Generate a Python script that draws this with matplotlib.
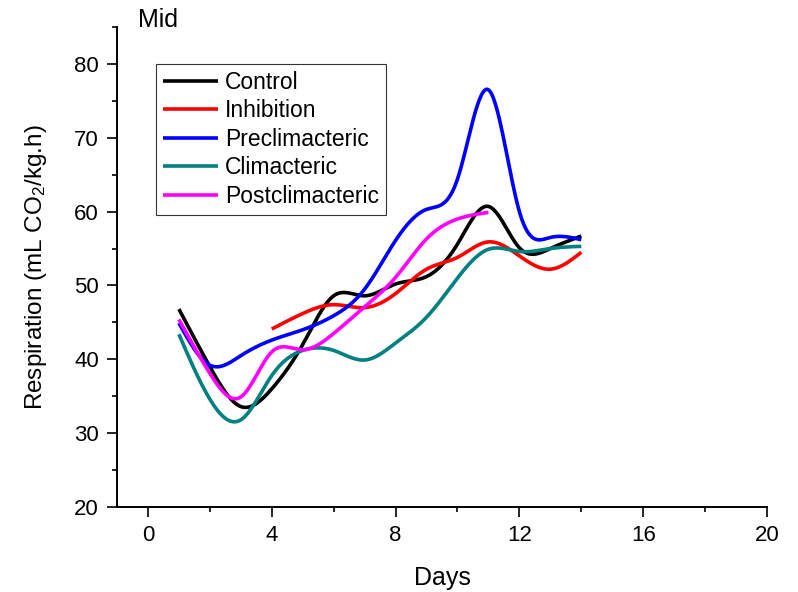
import numpy as np
import matplotlib
matplotlib.use("Agg")
import matplotlib.pyplot as plt

plt.rcParams['font.family'] = ['Liberation Sans', 'DejaVu Sans']
plt.rcParams['mathtext.fontset'] = 'custom'
plt.rcParams['mathtext.rm'] = 'Liberation Sans'
plt.rcParams['mathtext.it'] = 'Liberation Sans:italic'
plt.rcParams['mathtext.default'] = 'regular'

# Respiration rate (mL CO2 / kg.h) by storage day
days_full = [1, 2, 3, 4, 5, 6, 7, 8, 9, 10, 11, 12, 13, 14]
control = [46.8, 39.0, 33.6, 36.0, 42.0, 48.6, 48.6, 50.2, 51.2, 55.6, 60.7, 55.1, 55.0, 56.7]
preclimacteric = [44.9, 39.2, 40.5, 42.6, 44.0, 45.9, 49.5, 56.1, 60.3, 64.4, 76.5, 60.0, 56.5, 56.2]
climacteric = [43.4, 34.6, 31.8, 37.8, 41.2, 41.2, 39.9, 42.2, 45.7, 51.0, 54.9, 54.6, 55.0, 55.3]

days_inhib = [4, 5, 6, 7, 8, 9, 10, 11, 12, 13, 14]
inhibition = [44.1, 46.2, 47.4, 47.0, 48.9, 52.2, 53.8, 55.9, 54.0, 52.2, 54.5]

days_post = [1, 2, 3, 4, 5, 6, 7, 8, 9, 10, 11]
postclimacteric = [45.4, 38.1, 34.9, 41.0, 41.3, 43.5, 47.1, 51.1, 56.3, 59.0, 59.9]

series = [
    ("Control", days_full, control, "#000000"),
    ("Inhibition", days_inhib, inhibition, "#FF0000"),
    ("Preclimacteric", days_full, preclimacteric, "#0000FF"),
    ("Climacteric", days_full, climacteric, "#008080"),
    ("Postclimacteric", days_post, postclimacteric, "#FF00FF"),
]


def natural_spline(x, y, n=400):
    """Smooth natural cubic spline connecting the measured points."""
    x = np.asarray(x, float)
    y = np.asarray(y, float)
    k = len(x)
    h = np.diff(x)
    A = np.zeros((k, k))
    b = np.zeros(k)
    A[0, 0] = A[-1, -1] = 1.0
    for i in range(1, k - 1):
        A[i, i - 1] = h[i - 1]
        A[i, i] = 2 * (h[i - 1] + h[i])
        A[i, i + 1] = h[i]
        b[i] = 6 * ((y[i + 1] - y[i]) / h[i] - (y[i] - y[i - 1]) / h[i - 1])
    M = np.linalg.solve(A, b)
    xs = np.linspace(x[0], x[-1], n)
    idx = np.clip(np.searchsorted(x, xs) - 1, 0, k - 2)
    x0, x1 = x[idx], x[idx + 1]
    hh = x1 - x0
    t0 = x1 - xs
    t1 = xs - x0
    ys = (M[idx] * t0 ** 3 / (6 * hh) + M[idx + 1] * t1 ** 3 / (6 * hh)
          + (y[idx] / hh - M[idx] * hh / 6) * t0
          + (y[idx + 1] / hh - M[idx + 1] * hh / 6) * t1)
    return xs, ys


fig = plt.figure(figsize=(7.98, 5.92), dpi=100)
ax = fig.add_axes([117 / 798, 85 / 592, 650 / 798, 480 / 592])

for name, d, v, c in series:
    xs, ys = natural_spline(d, v)
    ax.plot(xs, ys, color=c, lw=2.6, label=name, solid_capstyle='butt')

ax.set_xlim(-1, 20)
ax.set_ylim(20, 85)
ax.set_xticks([0, 4, 8, 12, 16, 20])
ax.set_xticks([2, 6, 10, 14, 18], minor=True)
ax.set_yticks([20, 30, 40, 50, 60, 70, 80])
ax.set_yticks([25, 35, 45, 55, 65, 75, 85], minor=True)

for s in ['top', 'right']:
    ax.spines[s].set_visible(False)
for s in ['left', 'bottom']:
    ax.spines[s].set_linewidth(1.4)

ax.tick_params(which='major', direction='out', length=7, width=1.2, labelsize=16, pad=6)
ax.tick_params(which='minor', direction='out', length=3.5, width=1.2)

ax.set_xlabel("Days", fontsize=18, labelpad=14)
ax.set_ylabel("Respiration (mL CO$_2$/kg.h)", fontsize=17.5, labelpad=18)

ax.text(0.032, 1.0, "Mid", transform=ax.transAxes, fontsize=18, va='baseline', ha='left')

leg = ax.legend(loc='upper left', bbox_to_anchor=(0.06, 0.923), borderaxespad=0,
                fontsize=16.5, frameon=True, fancybox=False, handlelength=2.4,
                handletextpad=0.3, labelspacing=0.24, borderpad=0.3)
leg.get_frame().set_edgecolor('#000000')
leg.get_frame().set_linewidth(0.8)
for line in leg.get_lines():
    line.set_linewidth(2.6)

fig.savefig("out.png", dpi=100)
